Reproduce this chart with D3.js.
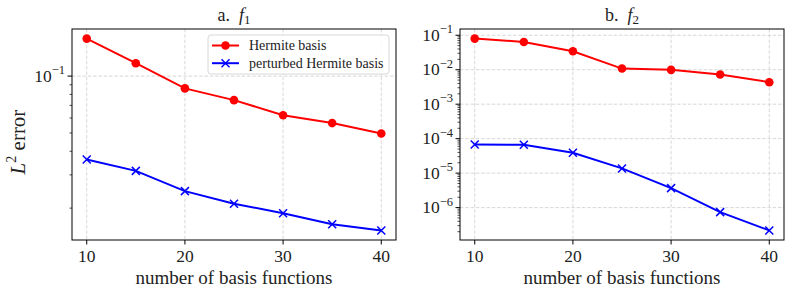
<!DOCTYPE html>
<html>
<head>
<meta charset="utf-8">
<script src="https://cdn.jsdelivr.net/npm/d3@7"></script>
<style>
  body { margin: 0; background: #fff; }
  svg text { font-family: "Liberation Serif", "Times New Roman", serif; }
</style>
</head>
<body>
<svg id="chart" width="793" height="295"></svg>
<script>
// values
var nBasis = [10, 15, 20, 25, 30, 35, 40];
var f1Hermite = [0.158, 0.117, 0.0861, 0.0746, 0.0621, 0.0564, 0.0497];
var f1Perturbed = [0.0362, 0.0315, 0.0246, 0.0211, 0.0188, 0.01644, 0.01524];
var f2Hermite = [0.080, 0.064, 0.0343, 0.0108, 0.0099, 0.00726, 0.00435];
var f2Perturbed = [6.8e-5, 6.65e-5, 3.9e-5, 1.37e-5, 3.67e-6, 7.4e-7, 2.18e-7];
var xTicks = [10, 20, 30, 40];
var titles = ["a.", "b."];
var titleSubs = ["1", "2"];
var legendNames = ["Hermite basis", "perturbed Hermite basis"];

var svg = d3.select("#chart");
var red = "#ff0000", blue = "#0000ff";

var panels = [
  {left: 72, right: 396, hermite: f1Hermite, perturbed: f1Perturbed, legend: true},
  {left: 460, right: 784, hermite: f2Hermite, perturbed: f2Perturbed, legend: false}
];
var axTop = 29, axBottom = 240;

// log scale domain with matplotlib style 5% margins
function logDomain(vals) {
  var lo = Math.log10(d3.min(vals)), hi = Math.log10(d3.max(vals));
  var m = (hi - lo) * 0.05;
  return [Math.pow(10, lo - m), Math.pow(10, hi + m)];
}

panels.forEach(function(p, i) {
  var g = svg.append("g");
  var x = d3.scaleLinear().domain([8.5, 41.5]).range([p.left, p.right]);
  var y = d3.scaleLog().domain(logDomain(p.hermite.concat(p.perturbed))).range([axBottom, axTop]);

  var dom = y.domain();
  var majors = [], minors = [];
  for (var e = Math.floor(Math.log10(dom[0])); e <= Math.ceil(Math.log10(dom[1])); e++) {
    for (var k = 1; k < 10; k++) {
      var v = k * Math.pow(10, e);
      if (v < dom[0] || v > dom[1]) continue;
      if (k === 1) majors.push(e); else minors.push(v);
    }
  }

  // grid
  g.selectAll(".gx").data(xTicks).enter().append("line")
    .attr("x1", function(d) { return x(d); }).attr("x2", function(d) { return x(d); })
    .attr("y1", axTop).attr("y2", axBottom)
    .attr("stroke", "#d3d3d3").attr("stroke-width", 0.9).attr("stroke-dasharray", "3.5,1.8");
  g.selectAll(".gy").data(majors).enter().append("line")
    .attr("x1", p.left).attr("x2", p.right)
    .attr("y1", function(d) { return y(Math.pow(10, d)); })
    .attr("y2", function(d) { return y(Math.pow(10, d)); })
    .attr("stroke", "#d3d3d3").attr("stroke-width", 0.9).attr("stroke-dasharray", "3.5,1.8");

  // lines & markers
  var line = d3.line()
    .x(function(d, j) { return x(nBasis[j]); })
    .y(function(d) { return y(d); });

  g.append("path").datum(p.hermite).attr("d", line)
    .attr("fill", "none").attr("stroke", red).attr("stroke-width", 2);
  g.selectAll(".dot").data(p.hermite).enter().append("circle")
    .attr("cx", function(d, j) { return x(nBasis[j]); })
    .attr("cy", function(d) { return y(d); })
    .attr("r", 4.3).attr("fill", red);

  g.append("path").datum(p.perturbed).attr("d", line)
    .attr("fill", "none").attr("stroke", blue).attr("stroke-width", 2);
  var s = 4;
  g.selectAll(".cross").data(p.perturbed).enter().append("path")
    .attr("d", function(d, j) {
      var cx = x(nBasis[j]), cy = y(d);
      return "M" + (cx - s) + "," + (cy - s) + "L" + (cx + s) + "," + (cy + s) +
             "M" + (cx - s) + "," + (cy + s) + "L" + (cx + s) + "," + (cy - s);
    })
    .attr("stroke", blue).attr("stroke-width", 1.5).attr("fill", "none");

  // frame
  g.append("rect").attr("x", p.left).attr("y", axTop)
    .attr("width", p.right - p.left).attr("height", axBottom - axTop)
    .attr("fill", "none").attr("stroke", "#000").attr("stroke-width", 1);

  // x axis
  g.selectAll(".xt").data(xTicks).enter().append("line")
    .attr("x1", function(d) { return x(d); }).attr("x2", function(d) { return x(d); })
    .attr("y1", axBottom).attr("y2", axBottom + 4.5)
    .attr("stroke", "#000").attr("stroke-width", 1);
  g.selectAll(".xl").data(xTicks).enter().append("text")
    .attr("x", function(d) { return x(d); }).attr("y", 262)
    .attr("text-anchor", "middle").attr("font-size", 17.5).attr("fill", "#222")
    .text(function(d) { return d; });
  g.append("text").attr("x", (p.left + p.right) / 2).attr("y", 284)
    .attr("text-anchor", "middle").attr("font-size", 19).attr("fill", "#222")
    .text("number of basis functions");

  // y axis
  g.selectAll(".ymaj").data(majors).enter().append("line")
    .attr("x1", p.left - 4.5).attr("x2", p.left)
    .attr("y1", function(d) { return y(Math.pow(10, d)); })
    .attr("y2", function(d) { return y(Math.pow(10, d)); })
    .attr("stroke", "#000").attr("stroke-width", 1);
  g.selectAll(".ymin").data(minors).enter().append("line")
    .attr("x1", p.left - 2.5).attr("x2", p.left)
    .attr("y1", function(d) { return y(d); }).attr("y2", function(d) { return y(d); })
    .attr("stroke", "#000").attr("stroke-width", 0.7);
  var yl = g.selectAll(".yl").data(majors).enter().append("text")
    .attr("x", p.left - 7).attr("y", function(d) { return y(Math.pow(10, d)) + 5.5; })
    .attr("text-anchor", "end").attr("font-size", 17.5).attr("fill", "#222");
  yl.append("tspan").text("10");
  yl.append("tspan").attr("dy", -7.5).attr("font-size", 12.5)
    .text(function(d) { return "\u2212" + (-d); });

  // title
  var t = g.append("text").attr("x", (p.left + p.right) / 2).attr("y", 21)
    .attr("text-anchor", "middle").attr("font-size", 18).attr("fill", "#222");
  t.append("tspan").text(titles[i] + "\u00a0\u00a0");
  t.append("tspan").attr("font-style", "italic").text("f");
  t.append("tspan").attr("dy", 3).attr("font-size", 13).text(titleSubs[i]);

  // legend
  if (p.legend) {
    var lg = g.append("g");
    lg.append("rect").attr("x", 208).attr("y", 35).attr("width", 181).attr("height", 39)
      .attr("rx", 3).attr("fill", "#fff").attr("fill-opacity", 0.85)
      .attr("stroke", "#d8d8d8").attr("stroke-width", 1);
    var rows = lg.selectAll(".lr").data(legendNames).enter().append("g")
      .attr("transform", function(d, j) { return "translate(0," + (45.5 + j * 17.7) + ")"; });
    rows.append("line").attr("x1", 212).attr("x2", 239).attr("y1", 0).attr("y2", 0)
      .attr("stroke", function(d, j) { return j === 0 ? red : blue; }).attr("stroke-width", 2);
    rows.filter(function(d, j) { return j === 0; }).append("circle")
      .attr("cx", 225.5).attr("cy", 0).attr("r", 4.3).attr("fill", red);
    rows.filter(function(d, j) { return j === 1; }).append("path")
      .attr("d", "M221.5,-4L229.5,4M221.5,4L229.5,-4")
      .attr("stroke", blue).attr("stroke-width", 1.5);
    rows.append("text").attr("x", 249).attr("y", 4.5).attr("font-size", 14).attr("fill", "#222")
      .text(function(d) { return d; });
  }
});

// shared y label
var ylab = svg.append("text").attr("transform", "translate(25,142) rotate(-90)")
  .attr("text-anchor", "middle").attr("font-size", 21).attr("fill", "#222");
ylab.append("tspan").attr("font-style", "italic").text("L");
ylab.append("tspan").attr("dy", -9).attr("font-size", 14).text("2");
ylab.append("tspan").attr("dy", 9).text("\u00a0error");
</script>
</body>
</html>
